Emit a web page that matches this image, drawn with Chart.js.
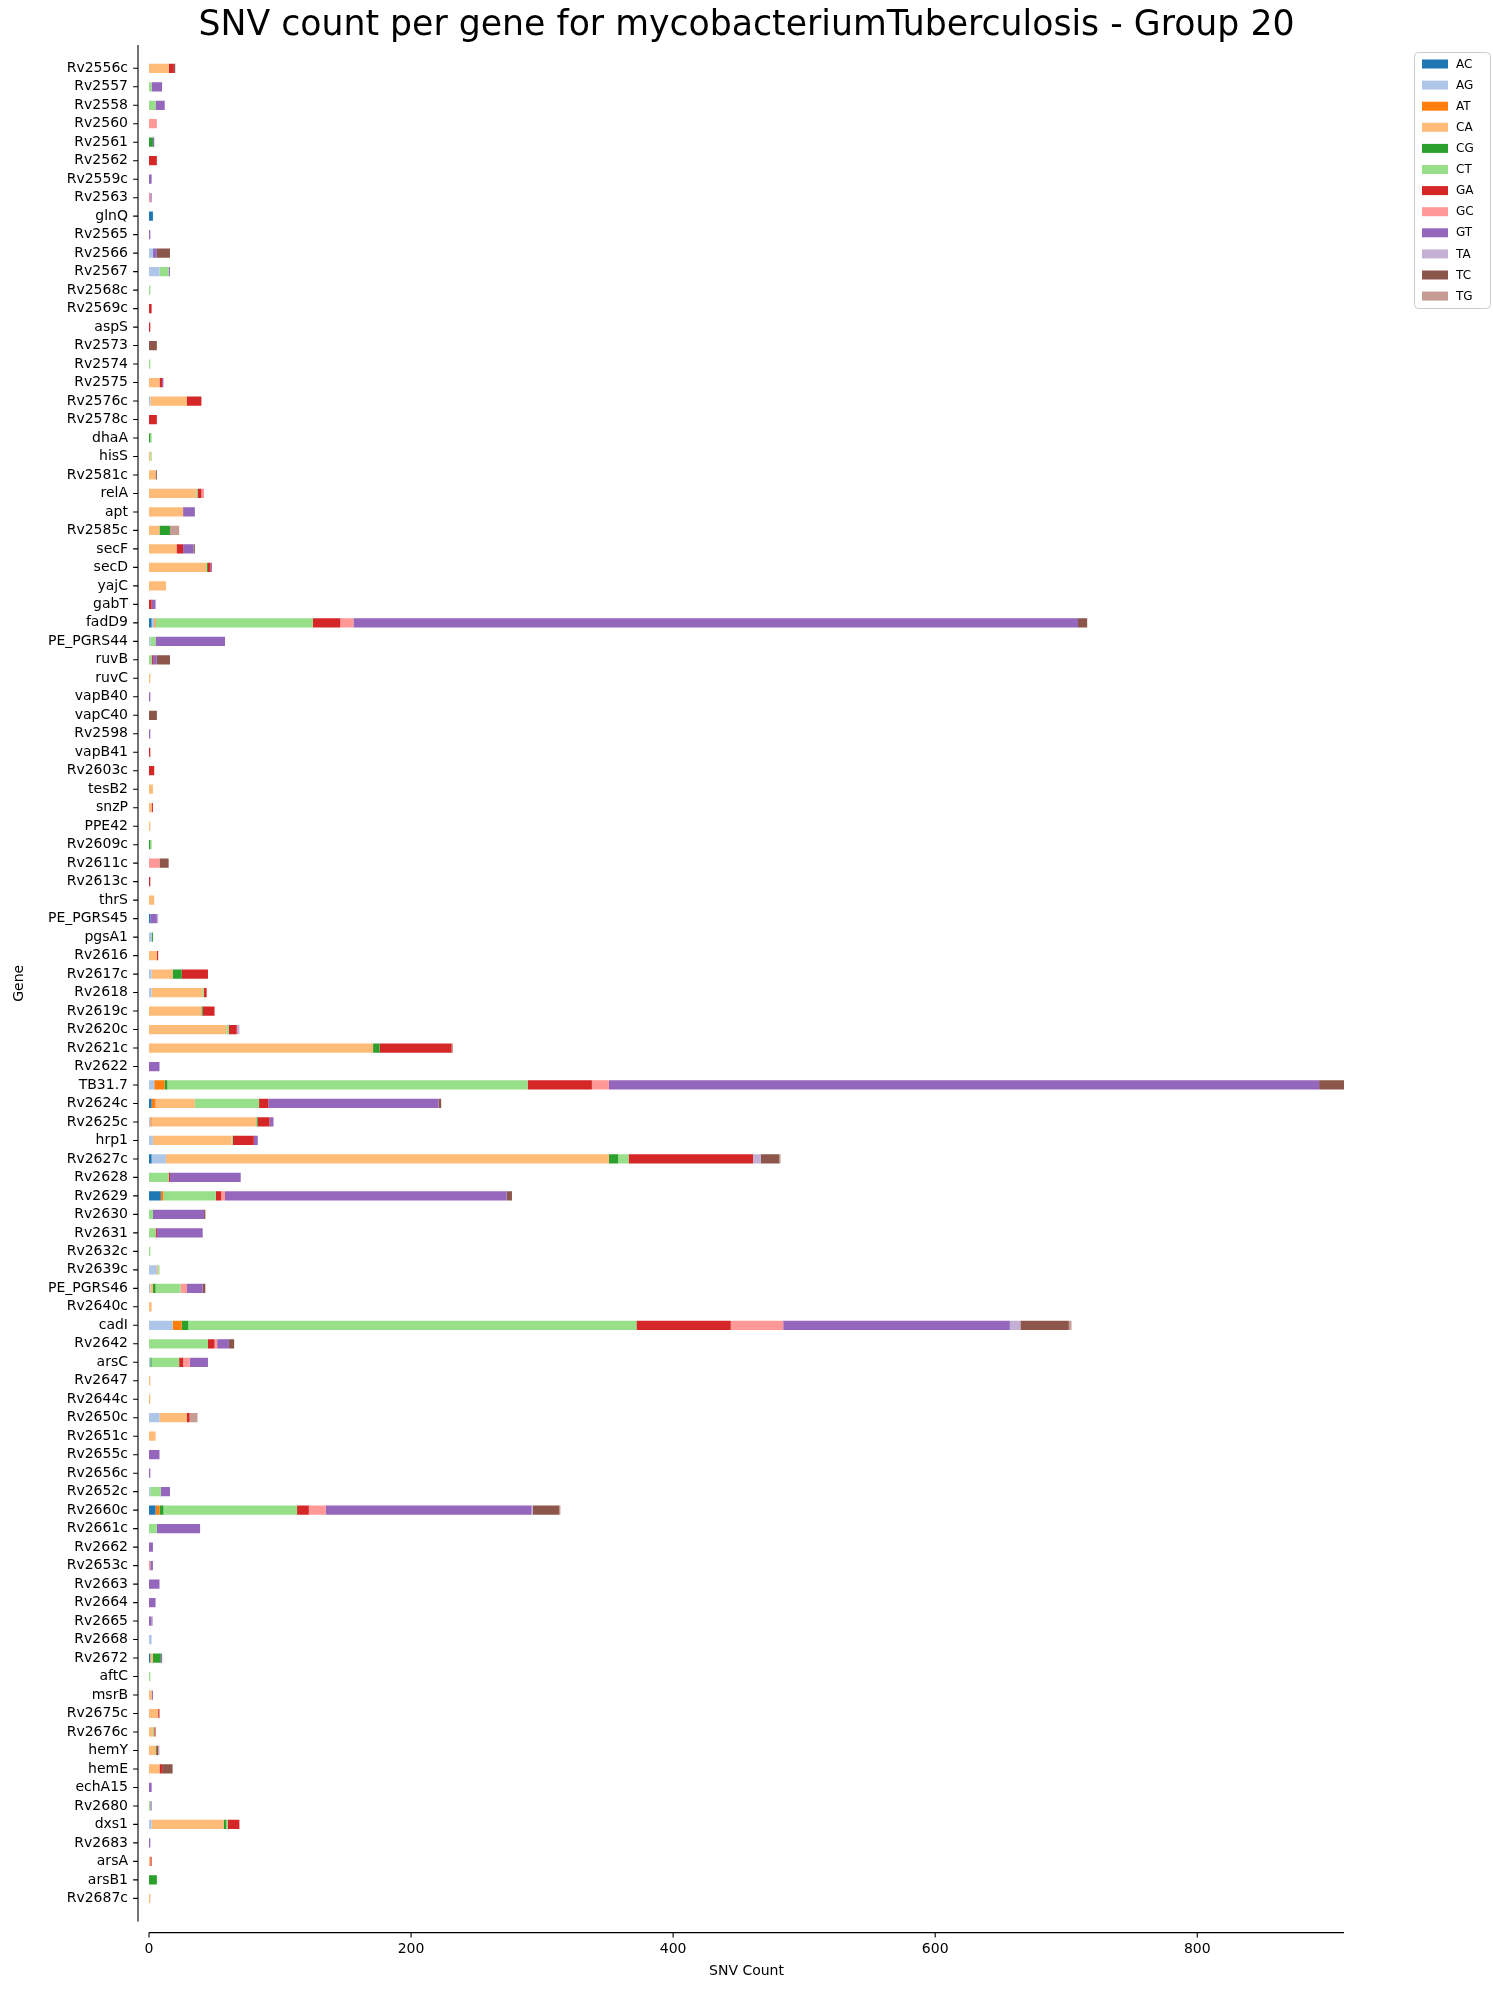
<!DOCTYPE html>
<html>
<head>
<meta charset="utf-8">
<script src="https://cdn.jsdelivr.net/npm/chart.js@4.4.1/dist/chart.umd.min.js"></script>
<style>
  html, body { margin: 0; padding: 0; background: #fff; }
  #wrap { width: 1493px; height: 1992px; position: relative; }
</style>
</head>
<body>
<div id="wrap"><canvas id="snvChart"></canvas></div>
<script>
// Genes, top to bottom
const genes = [
  'Rv2556c', 'Rv2557', 'Rv2558', 'Rv2560', 'Rv2561', 'Rv2562', 'Rv2559c', 'Rv2563', 'glnQ', 'Rv2565',
  'Rv2566', 'Rv2567', 'Rv2568c', 'Rv2569c', 'aspS', 'Rv2573', 'Rv2574', 'Rv2575', 'Rv2576c', 'Rv2578c',
  'dhaA', 'hisS', 'Rv2581c', 'relA', 'apt', 'Rv2585c', 'secF', 'secD', 'yajC', 'gabT',
  'fadD9', 'PE_PGRS44', 'ruvB', 'ruvC', 'vapB40', 'vapC40', 'Rv2598', 'vapB41', 'Rv2603c', 'tesB2',
  'snzP', 'PPE42', 'Rv2609c', 'Rv2611c', 'Rv2613c', 'thrS', 'PE_PGRS45', 'pgsA1', 'Rv2616', 'Rv2617c',
  'Rv2618', 'Rv2619c', 'Rv2620c', 'Rv2621c', 'Rv2622', 'TB31.7', 'Rv2624c', 'Rv2625c', 'hrp1', 'Rv2627c',
  'Rv2628', 'Rv2629', 'Rv2630', 'Rv2631', 'Rv2632c', 'Rv2639c', 'PE_PGRS46', 'Rv2640c', 'cadI', 'Rv2642',
  'arsC', 'Rv2647', 'Rv2644c', 'Rv2650c', 'Rv2651c', 'Rv2655c', 'Rv2656c', 'Rv2652c', 'Rv2660c', 'Rv2661c',
  'Rv2662', 'Rv2653c', 'Rv2663', 'Rv2664', 'Rv2665', 'Rv2668', 'Rv2672', 'aftC', 'msrB', 'Rv2675c',
  'Rv2676c', 'hemY', 'hemE', 'echA15', 'Rv2680', 'dxs1', 'Rv2683', 'arsA', 'arsB1', 'Rv2687c'
];

// SNV counts per substitution type (one value per gene, same order as genes)
const AC = [
  0, 0, 0, 0, 0, 0, 0, 0, 3, 0,
  0, 0, 0, 0, 0, 0, 0, 0, 0, 0,
  0, 0, 0, 0, 0, 0, 0, 0, 0, 0,
  2, 0, 0, 0, 0, 0, 0, 0, 0, 0,
  0, 0, 0, 0, 0, 0, 1, 0, 0, 0,
  0, 0, 0, 0, 0, 0, 2, 0, 0, 2,
  0, 9, 0, 0, 0, 0, 0, 0, 0, 0,
  0, 0, 0, 0, 0, 0, 0, 0, 5, 0,
  0, 0, 0, 0, 0, 0, 1, 0, 0, 0,
  0, 0, 0, 0, 0, 0, 0, 0, 0, 0
];
const AG = [
  0, 0, 0, 0, 0, 0, 0, 0, 0, 0,
  3, 8, 0, 0, 0, 0, 0, 0, 1, 0,
  0, 0, 0, 0, 0, 0, 0, 0, 0, 0,
  2, 1, 0, 0, 0, 0, 0, 0, 0, 0,
  0, 0, 0, 0, 0, 0, 0, 2, 0, 2,
  2, 0, 0, 0, 0, 4, 0, 1, 3, 11,
  0, 0, 0, 0, 0, 6, 1, 0, 18, 0,
  1, 0, 0, 8, 0, 0, 0, 1, 0, 0,
  0, 0, 0, 0, 0, 2, 0, 0, 0, 0,
  0, 0, 0, 0, 0, 2, 0, 0, 0, 0
];
const AT = [
  0, 0, 0, 0, 0, 0, 0, 0, 0, 0,
  0, 0, 0, 0, 0, 0, 0, 0, 0, 0,
  0, 0, 0, 0, 0, 0, 0, 0, 0, 0,
  1, 0, 0, 0, 0, 0, 0, 0, 0, 0,
  0, 0, 0, 0, 0, 0, 0, 0, 0, 0,
  0, 0, 0, 0, 0, 8, 3, 1, 0, 0,
  0, 2, 0, 0, 0, 0, 0, 0, 7, 0,
  0, 0, 0, 0, 0, 0, 0, 0, 3, 0,
  0, 0, 0, 0, 0, 0, 0, 0, 0, 0,
  0, 0, 0, 0, 0, 0, 0, 0, 0, 0
];
const CA = [
  15, 0, 0, 0, 0, 0, 0, 0, 0, 0,
  0, 0, 0, 0, 0, 0, 0, 8, 28, 0,
  0, 1, 5, 36, 26, 8, 21, 44, 13, 0,
  0, 0, 0, 1, 0, 0, 0, 0, 0, 3,
  2, 1, 0, 0, 0, 4, 0, 0, 6, 16,
  39, 40, 59, 171, 0, 0, 30, 80, 60, 338,
  0, 0, 0, 0, 0, 1, 2, 2, 0, 0,
  0, 1, 1, 21, 5, 0, 0, 0, 0, 0,
  0, 0, 0, 0, 0, 0, 2, 0, 2, 7,
  3, 5, 8, 0, 0, 55, 0, 1, 0, 1
];
const CG = [
  0, 0, 0, 0, 3, 0, 0, 0, 0, 0,
  0, 0, 0, 0, 0, 0, 0, 0, 0, 0,
  1, 0, 0, 0, 0, 8, 0, 1, 0, 0,
  0, 0, 0, 0, 0, 0, 0, 0, 0, 0,
  0, 0, 1, 0, 0, 0, 0, 1, 0, 7,
  0, 1, 0, 5, 0, 2, 0, 1, 0, 7,
  0, 0, 0, 0, 0, 0, 2, 0, 5, 0,
  1, 0, 0, 0, 0, 0, 0, 0, 3, 0,
  0, 0, 0, 0, 0, 0, 6, 0, 0, 0,
  0, 1, 0, 0, 0, 2, 0, 0, 6, 0
];
const CT = [
  0, 2, 5, 0, 0, 0, 0, 0, 0, 0,
  0, 7, 1, 0, 0, 0, 1, 0, 0, 0,
  1, 1, 0, 1, 0, 0, 0, 0, 0, 0,
  120, 4, 2, 0, 0, 0, 0, 0, 0, 0,
  0, 0, 1, 0, 0, 0, 0, 0, 0, 0,
  1, 0, 2, 0, 0, 275, 49, 0, 1, 8,
  15, 40, 3, 5, 1, 1, 19, 0, 342, 45,
  21, 0, 0, 0, 0, 0, 0, 8, 102, 6,
  0, 0, 0, 0, 0, 0, 0, 1, 0, 0,
  1, 0, 0, 0, 1, 1, 0, 0, 0, 0
];
const GA = [
  4, 0, 0, 0, 0, 6, 0, 0, 0, 0,
  0, 0, 0, 2, 1, 0, 0, 2, 11, 6,
  0, 0, 0, 3, 0, 0, 5, 2, 0, 2,
  21, 0, 1, 0, 0, 0, 0, 1, 4, 0,
  1, 0, 0, 0, 1, 0, 0, 0, 1, 20,
  2, 9, 6, 55, 0, 49, 7, 9, 16, 95,
  1, 4, 0, 1, 0, 0, 0, 0, 72, 5,
  3, 0, 0, 2, 0, 0, 0, 0, 9, 0,
  0, 0, 0, 0, 0, 0, 0, 0, 0, 1,
  1, 1, 2, 0, 0, 9, 0, 1, 0, 0
];
const GC = [
  0, 0, 0, 6, 0, 0, 0, 1, 0, 0,
  0, 0, 0, 0, 0, 0, 0, 0, 0, 0,
  0, 0, 0, 2, 0, 0, 0, 0, 0, 0,
  10, 0, 0, 0, 0, 0, 0, 0, 0, 0,
  0, 0, 0, 8, 0, 0, 0, 0, 0, 0,
  0, 0, 0, 0, 0, 13, 0, 0, 0, 0,
  0, 3, 0, 0, 0, 0, 5, 0, 40, 2,
  5, 0, 0, 0, 0, 0, 0, 0, 13, 0,
  0, 1, 0, 0, 0, 0, 0, 0, 0, 0,
  0, 0, 0, 0, 0, 0, 0, 0, 0, 0
];
const GT = [
  0, 8, 7, 0, 1, 0, 2, 1, 0, 1,
  3, 1, 0, 0, 0, 0, 0, 1, 0, 0,
  0, 0, 0, 0, 9, 0, 8, 1, 0, 3,
  553, 53, 3, 0, 1, 0, 1, 0, 0, 0,
  0, 0, 0, 0, 0, 0, 5, 0, 0, 0,
  0, 0, 0, 0, 8, 542, 130, 3, 3, 0,
  54, 215, 39, 35, 0, 0, 12, 0, 173, 9,
  14, 0, 0, 0, 0, 8, 1, 7, 157, 33,
  3, 2, 8, 5, 2, 0, 1, 0, 1, 0,
  0, 0, 0, 2, 1, 0, 1, 0, 0, 0
];
const TA = [
  0, 0, 0, 0, 0, 0, 0, 0, 0, 0,
  0, 0, 0, 0, 0, 0, 0, 0, 0, 0,
  0, 0, 0, 0, 0, 0, 0, 0, 0, 0,
  0, 0, 0, 0, 0, 0, 0, 0, 0, 0,
  0, 0, 0, 0, 0, 0, 1, 0, 0, 0,
  0, 0, 2, 0, 0, 0, 0, 0, 0, 6,
  0, 0, 0, 0, 0, 0, 0, 0, 8, 0,
  0, 0, 0, 0, 0, 0, 0, 0, 1, 0,
  0, 0, 0, 0, 1, 0, 0, 0, 0, 0,
  0, 1, 0, 0, 0, 0, 0, 0, 0, 0
];
const TC = [
  1, 0, 0, 0, 0, 0, 0, 0, 0, 0,
  10, 0, 0, 0, 0, 6, 0, 0, 0, 0,
  0, 0, 1, 0, 0, 0, 1, 0, 0, 0,
  7, 0, 10, 0, 0, 6, 0, 0, 0, 0,
  0, 0, 0, 7, 0, 0, 0, 0, 0, 0,
  0, 0, 0, 0, 0, 19, 2, 0, 0, 14,
  0, 4, 1, 0, 0, 0, 2, 0, 37, 4,
  0, 0, 0, 0, 0, 0, 0, 0, 20, 0,
  0, 0, 0, 0, 0, 0, 0, 0, 0, 0,
  0, 0, 8, 0, 0, 0, 0, 0, 0, 0
];
const TG = [
  0, 0, 0, 0, 0, 0, 0, 0, 0, 0,
  0, 0, 0, 0, 0, 0, 0, 0, 0, 0,
  0, 0, 0, 0, 0, 7, 0, 0, 0, 0,
  0, 0, 0, 0, 0, 0, 0, 0, 0, 0,
  0, 0, 0, 0, 0, 0, 0, 0, 0, 0,
  0, 0, 0, 1, 0, 0, 0, 0, 0, 1,
  0, 0, 0, 0, 0, 0, 0, 0, 2, 0,
  0, 0, 0, 6, 0, 0, 0, 0, 1, 0,
  0, 0, 0, 0, 0, 0, 0, 0, 0, 0,
  0, 0, 0, 0, 0, 0, 0, 0, 0, 0
];

const typeNames = ['AC', 'AG', 'AT', 'CA', 'CG', 'CT', 'GA', 'GC', 'GT', 'TA', 'TC', 'TG'];
const typeValues = [AC, AG, AT, CA, CG, CT, GA, GC, GT, TA, TC, TG];
const xTicks = [0, 200, 400, 600, 800];
const xMax = 912;

// tab20 palette
const colors = [
  '#1f77b4', '#aec7e8', '#ff7f0e', '#ffbb78', '#2ca02c', '#98df8a',
  '#d62728', '#ff9896', '#9467bd', '#c5b0d5', '#8c564b', '#c49c94'
];

const FONT = 'DejaVu Sans';

// Offset spines (like seaborn despine with offset) and tick marks
const spinesPlugin = {
  id: 'spines',
  afterDraw(chart) {
    const { ctx, chartArea: ca, scales } = chart;
    const axTop = ca.top - 14;
    const axBottom = ca.bottom + 14;
    const spineX = ca.left - 11;
    const spineY = axBottom + 11;
    ctx.save();
    ctx.strokeStyle = '#000';
    ctx.lineWidth = 1.1;
    ctx.beginPath();
    ctx.moveTo(spineX, axTop);
    ctx.lineTo(spineX, axBottom);
    genes.forEach((g, i) => {
      const y = scales.y.getPixelForValue(i);
      ctx.moveTo(spineX, y);
      ctx.lineTo(spineX - 4.9, y);
    });
    ctx.moveTo(ca.left, spineY);
    ctx.lineTo(ca.right, spineY);
    xTicks.forEach(v => {
      const x = scales.x.getPixelForValue(v);
      ctx.moveTo(x, spineY);
      ctx.lineTo(x, spineY + 4.9);
    });
    ctx.stroke();
    ctx.restore();
  }
};

// Legend box outside the plot, upper left anchored at the right side
const legendPlugin = {
  id: 'sideLegend',
  afterDraw(chart) {
    const { ctx } = chart;
    const x0 = 1414, y0 = 52, w = 76, h = 256, r = 4;
    ctx.save();
    ctx.fillStyle = 'rgba(255,255,255,0.8)';
    ctx.strokeStyle = '#cccccc';
    ctx.lineWidth = 1;
    ctx.beginPath();
    ctx.roundRect(x0 + 0.5, y0 + 0.5, w, h, r);
    ctx.fill();
    ctx.stroke();
    ctx.font = '12px "' + FONT + '"';
    ctx.textBaseline = 'middle';
    ctx.textAlign = 'left';
    typeNames.forEach((name, i) => {
      const cy = 64 + i * 21.1;
      ctx.fillStyle = colors[i];
      ctx.fillRect(x0 + 8, cy - 4.5, 26, 9);
      ctx.fillStyle = '#000';
      ctx.fillText(name, x0 + 42, cy + 0.5);
    });
    ctx.restore();
  }
};

const ctx = document.getElementById('snvChart').getContext('2d');
new Chart(ctx, {
  type: 'bar',
  data: {
    labels: genes,
    datasets: typeNames.map((name, i) => ({
      label: name,
      data: typeValues[i],
      backgroundColor: colors[i],
      borderWidth: 0,
      barPercentage: 0.5,
      categoryPercentage: 1.0,
      stack: 'snv'
    }))
  },
  options: {
    indexAxis: 'y',
    responsive: true,
    maintainAspectRatio: false,
    animation: false,
    devicePixelRatio: 1,
    layout: { padding: { left: 0, right: 149, top: 0, bottom: 0 } },
    scales: {
      x: {
        stacked: true,
        min: 0,
        max: xMax,
        grid: { display: false, drawTicks: false },
        border: { display: false },
        ticks: {
          stepSize: 200,
          includeBounds: false,
          padding: 33,
          color: '#000',
          font: { family: FONT, size: 14 }
        },
        title: {
          display: true,
          text: 'SNV Count',
          color: '#000',
          font: { family: FONT, size: 14 },
          padding: { top: 0, bottom: 12 }
        },
        afterFit: s => { s.height = 84.4; }
      },
      y: {
        stacked: true,
        grid: { display: false, drawTicks: false },
        border: { display: false },
        ticks: {
          autoSkip: false,
          padding: 21,
          color: '#000',
          font: { family: FONT, size: 14 }
        },
        title: {
          display: true,
          text: 'Gene',
          color: '#000',
          font: { family: FONT, size: 14 },
          padding: { top: 10.6, bottom: 0 }
        },
        afterFit: s => { s.width = 149; }
      }
    },
    plugins: {
      legend: { display: false },
      tooltip: { enabled: false },
      title: {
        display: true,
        fullSize: false,
        text: 'SNV count per gene for mycobacteriumTuberculosis - Group 20',
        color: '#000',
        font: { family: FONT, size: 34.7, weight: 'normal' },
        padding: { top: 5.2, bottom: 12.2 }
      }
    }
  },
  plugins: [spinesPlugin, legendPlugin]
});
</script>
</body>
</html>
